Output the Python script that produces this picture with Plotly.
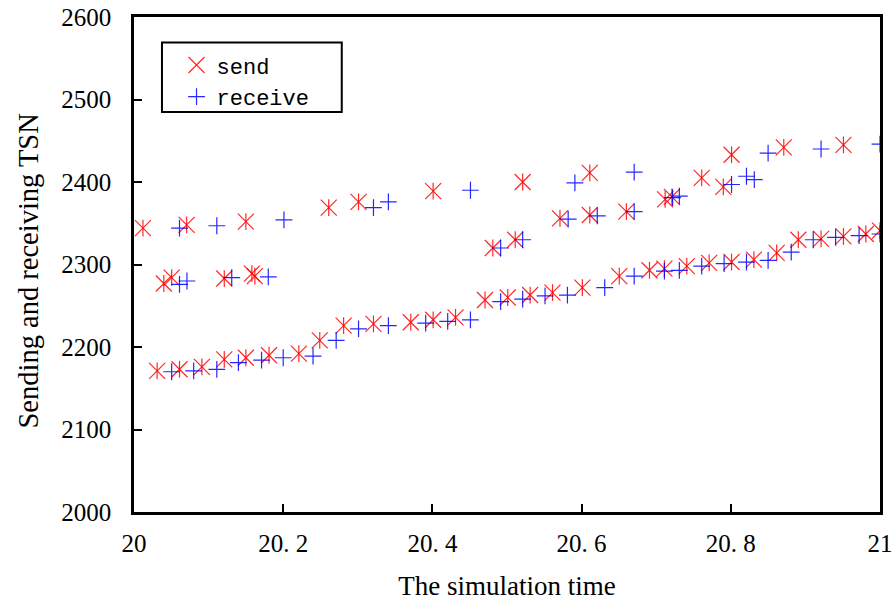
import plotly.graph_objects as go

send_x = [20.012, 20.031, 20.040, 20.0505, 20.061, 20.0706, 20.091, 20.121, 20.121, 20.150,
          20.150, 20.158, 20.162, 20.181, 20.221, 20.249, 20.261, 20.281, 20.301, 20.321,
          20.371, 20.401, 20.401, 20.431, 20.4705, 20.481, 20.501, 20.511, 20.521, 20.531,
          20.561, 20.571, 20.601, 20.611, 20.611, 20.6505, 20.660, 20.691, 20.711, 20.712,
          20.721, 20.741, 20.761, 20.771, 20.790, 20.801, 20.801, 20.831, 20.8615, 20.871,
          20.8905, 20.921, 20.951, 20.951, 20.981, 21.0]
send_y = [2344, 2171, 2277, 2284, 2173, 2348, 2176, 2283, 2185, 2352,
          2187, 2289, 2286, 2190, 2192, 2208, 2369, 2226, 2376, 2228,
          2230, 2389, 2233, 2236, 2257, 2320, 2260, 2330, 2400, 2263,
          2266, 2356, 2272, 2411, 2360, 2286, 2364, 2293, 2295, 2379,
          2382, 2298, 2405, 2302, 2394, 2433, 2303, 2306, 2314, 2442,
          2330, 2331, 2445, 2334, 2337, 2341]

recv_x = [20.0505, 20.061, 20.061, 20.071, 20.080, 20.111, 20.111, 20.131, 20.140, 20.171,
          20.180, 20.200, 20.201, 20.240, 20.271, 20.301, 20.321, 20.341, 20.341, 20.391,
          20.4205, 20.451, 20.451, 20.4915, 20.4915, 20.521, 20.521, 20.551, 20.581, 20.582,
          20.591, 20.621, 20.631, 20.6705, 20.6705, 20.6705, 20.711, 20.722, 20.731, 20.731,
          20.761, 20.791, 20.801, 20.821, 20.821, 20.8315, 20.850, 20.850, 20.881, 20.9105,
          20.921, 20.9405, 20.972, 21.0, 21.0]
recv_y = [2170, 2344, 2276, 2280, 2171, 2347, 2173, 2284, 2181, 2184,
          2285, 2187, 2354, 2189, 2208, 2222, 2369, 2376, 2226, 2229,
          2231, 2390, 2233, 2320, 2255, 2330, 2258, 2262, 2263, 2355,
          2399, 2359, 2272, 2412, 2364, 2286, 2292, 2381, 2383, 2293,
          2298, 2301, 2397, 2407, 2303, 2403, 2435, 2305, 2315, 2330,
          2440, 2333, 2335, 2446, 2337]

x_ticks = [20, 20.2, 20.4, 20.6, 20.8, 21]
x_ticktext = ["20", "20. 2", "20. 4", "20. 6", "20. 8", "21"]
y_ticks = [2000, 2100, 2200, 2300, 2400, 2500, 2600]

RED = "rgba(255,0,0,0.85)"
BLUE = "rgba(0,0,255,0.85)"

fig = go.Figure()
fig.add_trace(go.Scatter(
    x=send_x, y=send_y, mode="markers", name="send",
    marker=dict(symbol="x-thin-open", size=16, line=dict(color=RED, width=1.2), color=RED),
))
fig.add_trace(go.Scatter(
    x=send_x, y=send_y, mode="markers", name="send", showlegend=False,
    marker=dict(symbol="line-ns-open", size=12, line=dict(color=RED, width=1.2), color=RED),
))
fig.add_trace(go.Scatter(
    x=recv_x, y=recv_y, mode="markers", name="receive",
    marker=dict(symbol="cross-thin-open", size=12, line=dict(color=BLUE, width=1.2), color=BLUE),
))

axis_common = dict(
    showgrid=False, zeroline=False, showline=True, linecolor="black", linewidth=2.5,
    mirror=True, ticks="inside", ticklen=8, tickwidth=2, tickcolor="black", automargin=False,
    tickfont=dict(family="Liberation Serif", size=25, color="black"),
)

fig.update_xaxes(range=[20, 21], tickvals=x_ticks, ticktext=x_ticktext,
                 title=dict(text="The simulation time", font=dict(family="Liberation Serif", size=27, color="black"), standoff=21),
                 ticklabelstandoff=7, **axis_common)
fig.update_yaxes(range=[2000, 2600], tickvals=y_ticks, ticklabelstandoff=15, **axis_common)

fig.add_annotation(text="Sending and receiving TSN", xref="paper", yref="paper",
                   x=-0.142, y=0.486, xanchor="center", yanchor="middle", textangle=-90,
                   showarrow=False, font=dict(family="Liberation Serif", size=28.5, color="black"))

fig.add_shape(type="rect", xref="paper", yref="paper", x0=0.0375, x1=0.2785, y0=0.808, y1=0.9485,
              line=dict(color="black", width=2), fillcolor="white", layer="below")

fig.update_layout(
    width=896, height=603,
    margin=dict(l=134, r=16, t=17, b=91),
    plot_bgcolor="white", paper_bgcolor="white",
    legend=dict(x=0.057, y=0.945, xanchor="left", yanchor="top",
                bgcolor="rgba(0,0,0,0)", borderwidth=0,
                font=dict(family="Liberation Mono", size=22, color="black")),
)

fig.write_html("out.html")
